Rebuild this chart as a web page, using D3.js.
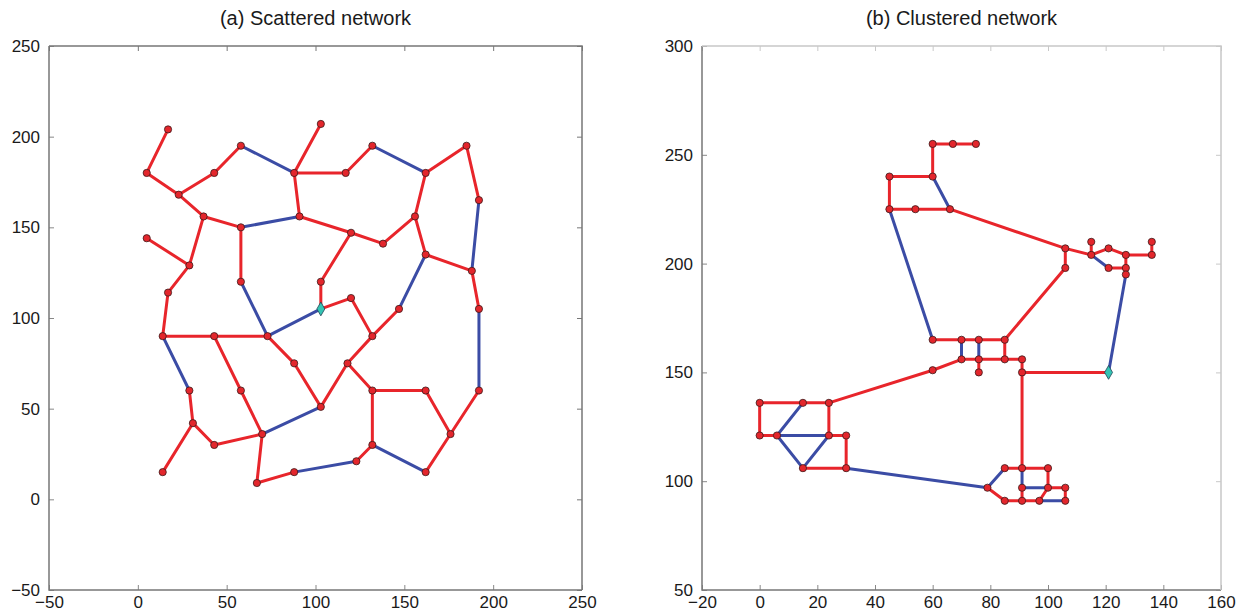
<!DOCTYPE html>
<html>
<head>
<meta charset="utf-8">
<script src="https://cdn.jsdelivr.net/npm/d3@7"></script>
<style>
  body { margin: 0; background: #fff; }
  svg { display: block; font-family: "Liberation Sans", Arial, Helvetica, sans-serif; }
</style>
</head>
<body>
<div id="chart"></div>
<script>
// (a) scattered network: node positions, red/blue links as node index pairs
var nodesA = [
  [17,204],[5,180],[23,168],[43,180],[58,195],[88,180],[103,207],[117,180],[132,195],[162,180],
  [185,195],[192,165],[37,156],[58,150],[91,156],[120,147],[138,141],[156,156],[162,135],[5,144],
  [29,129],[17,114],[58,120],[103,120],[120,111],[103,105],[147,105],[188,126],[192,105],[14,90],
  [43,90],[73,90],[132,90],[88,75],[118,75],[29,60],[58,60],[103,51],[132,60],[162,60],
  [192,60],[31,42],[43,30],[70,36],[132,30],[176,36],[14,15],[67,9],[88,15],[123,21],
  [162,15]
];
var redLinksA = [
  [0,1],[1,2],[2,3],[3,4],[5,6],[5,7],[7,8],[9,10],[10,11],[5,14],[2,12],[12,13],[14,15],
  [15,16],[16,17],[17,9],[17,18],[18,27],[27,28],[15,23],[23,25],[25,24],[24,32],[32,26],
  [13,22],[12,20],[19,20],[20,21],[21,29],[29,30],[30,31],[30,36],[36,43],[31,33],[33,37],
  [37,34],[34,32],[34,38],[35,41],[41,42],[42,43],[41,46],[43,47],[47,48],[49,44],[44,38],
  [38,39],[39,45],[45,50],[45,40]
];
var blueLinksA = [
  [4,5],[8,9],[11,27],[13,14],[18,26],[28,40],[22,31],[31,25],[29,35],[37,43],[48,49],[44,50]
];
var sinkA = 25;

// (b) clustered network
var nodesB = [
  [60,255],[67,255],[75,255],[45,240],[60,240],[45,225],[54,225],[66,225],[106,207],[106,198],
  [115,210],[115,204],[121,207],[127,204],[136,210],[136,204],[121,198],[127,198],[127,195],[121,150],
  [60,165],[70,165],[76,165],[85,165],[70,156],[76,156],[85,156],[91,156],[60,151],[76,150],
  [91,150],[0,136],[15,136],[24,136],[0,121],[6,121],[24,121],[30,121],[15,106],[30,106],
  [79,97],[85,106],[91,106],[100,106],[91,97],[100,97],[106,97],[85,91],[91,91],[97,91],
  [106,91]
];
var redLinksB = [
  [0,1],[1,2],[0,4],[3,4],[3,5],[5,6],[6,7],[7,8],[8,11],[8,9],[10,11],[11,12],[12,13],
  [13,15],[15,14],[16,17],[13,17],[17,18],[19,30],[30,27],[26,27],[25,26],[23,9],[23,26],
  [22,23],[25,29],[20,21],[21,22],[24,25],[24,28],[28,33],[31,32],[32,33],[31,34],[34,35],
  [33,36],[36,37],[37,39],[38,39],[30,42],[40,47],[41,42],[42,43],[43,45],[45,46],[46,50],
  [47,48],[48,44],[48,49],[49,45]
];
var blueLinksB = [
  [4,7],[5,20],[11,16],[18,19],[22,25],[21,24],[35,32],[35,36],[35,38],[38,36],[39,40],
  [40,41],[42,44],[44,45],[49,50]
];
var sinkB = 19;

var ticksA = [-50, 0, 50, 100, 150, 200, 250];
var ticksBx = [-20, 0, 20, 40, 60, 80, 100, 120, 140, 160];
var ticksBy = [50, 100, 150, 200, 250, 300];

var RED = "#e8252b", BLUE = "#3b4ca5";

var svg = d3.select("#chart").append("svg")
  .attr("width", 1246).attr("height", 615);

function drawPanel(opt) {
  var x = d3.scaleLinear().domain(opt.xDomain).range([opt.left, opt.right]);
  var y = d3.scaleLinear().domain(opt.yDomain).range([opt.bottom, opt.top]);
  var g = svg.append("g");

  var ax = [
    g.append("g").attr("transform", "translate(0," + opt.bottom + ")")
      .call(d3.axisBottom(x).tickValues(opt.xTicks).tickSize(-5).tickPadding(6).tickFormat(d3.format("d"))),
    g.append("g").attr("transform", "translate(" + opt.left + ",0)")
      .call(d3.axisLeft(y).tickValues(opt.yTicks).tickSize(-5).tickPadding(9).tickFormat(d3.format("d"))),
    g.append("g").attr("transform", "translate(0," + opt.top + ")")
      .call(d3.axisTop(x).tickValues(opt.xTicks).tickSize(-5).tickFormat("")),
    g.append("g").attr("transform", "translate(" + opt.right + ",0)")
      .call(d3.axisRight(y).tickValues(opt.yTicks).tickSize(-5).tickFormat(""))
  ];
  ax.forEach(function(a, i) {
    a.select(".domain").remove();
    a.selectAll(".tick line").attr("stroke", i < 2 ? "#888" : opt.farColor);
    a.selectAll("text").attr("font-size", 17).attr("fill", "#1a1a1a")
      .attr("font-family", "'Liberation Sans', Arial, Helvetica, sans-serif");
  });

  // frame
  g.append("path")
    .attr("d", "M" + opt.left + "," + opt.top + "V" + opt.bottom + "H" + opt.right)
    .attr("fill", "none").attr("stroke", "#777").attr("stroke-width", 1.5);
  g.append("path")
    .attr("d", "M" + opt.left + "," + opt.top + "H" + opt.right + "V" + opt.bottom)
    .attr("fill", "none").attr("stroke", opt.farColor).attr("stroke-width", 1.5);

  // title
  g.append("text")
    .attr("x", (opt.left + opt.right) / 2).attr("y", 25)
    .attr("text-anchor", "middle").attr("font-size", 20).attr("fill", "#1a1a1a")
    .text(opt.title);

  // links
  function drawLinks(links, color) {
    g.append("g").selectAll("line").data(links).join("line")
      .attr("x1", function(d) { return x(opt.nodes[d[0]][0]); })
      .attr("y1", function(d) { return y(opt.nodes[d[0]][1]); })
      .attr("x2", function(d) { return x(opt.nodes[d[1]][0]); })
      .attr("y2", function(d) { return y(opt.nodes[d[1]][1]); })
      .attr("stroke", color).attr("stroke-width", 3)
      .attr("stroke-linecap", "round");
  }
  drawLinks(opt.red, RED);
  drawLinks(opt.blue, BLUE);

  // nodes
  g.append("g").selectAll("circle")
    .data(opt.nodes.filter(function(d, i) { return i !== opt.sink; }))
    .join("circle")
    .attr("cx", function(d) { return x(d[0]); })
    .attr("cy", function(d) { return y(d[1]); })
    .attr("r", 3.6)
    .attr("fill", "#e3262c").attr("stroke", "#3a1a1a").attr("stroke-width", 0.8);

  var s = opt.nodes[opt.sink];
  g.append("path")
    .attr("d", d3.symbol(d3.symbolDiamond, 55)())
    .attr("transform", "translate(" + x(s[0]) + "," + y(s[1]) + ")")
    .attr("fill", "#33c4b3").attr("stroke", "#245").attr("stroke-width", 0.8);
}

drawPanel({
  title: "(a) Scattered network",
  left: 49, right: 582, top: 46, bottom: 590,
  xDomain: [-50, 250], yDomain: [-50, 250],
  xTicks: ticksA, yTicks: ticksA,
  nodes: nodesA, red: redLinksA, blue: blueLinksA, sink: sinkA,
  farColor: "#777"
});

drawPanel({
  title: "(b) Clustered network",
  left: 702, right: 1221, top: 46, bottom: 590,
  xDomain: [-20, 160], yDomain: [50, 300],
  xTicks: ticksBx, yTicks: ticksBy,
  nodes: nodesB, red: redLinksB, blue: blueLinksB, sink: sinkB,
  farColor: "#c8c8c8"
});
</script>
</body>
</html>
